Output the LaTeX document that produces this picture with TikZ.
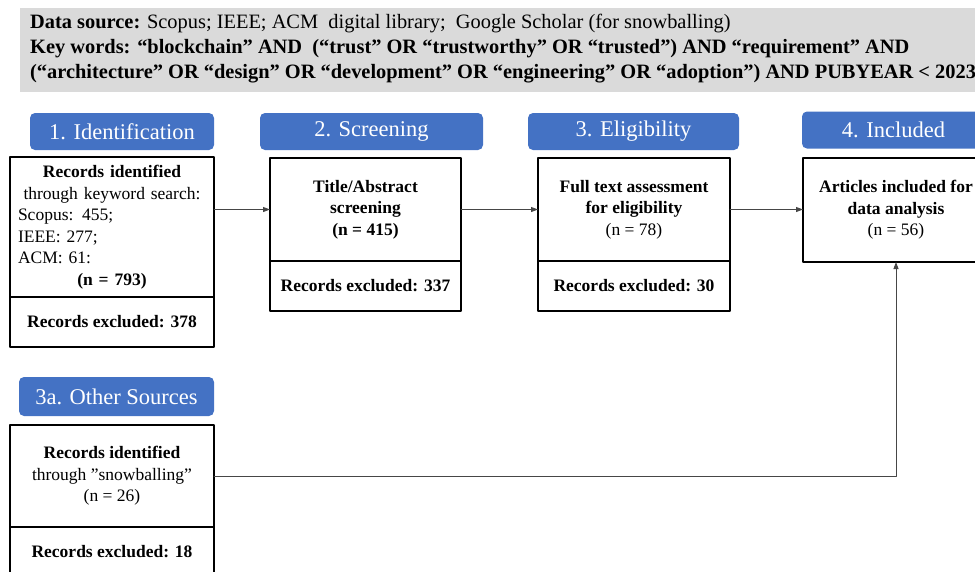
\documentclass[tikz,border=0pt]{standalone}
\usepackage{fontspec}
\setmainfont{Liberation Serif}
\usetikzlibrary{arrows.meta,positioning}
\definecolor{phaseblue}{RGB}{68,114,196}
\definecolor{headgray}{RGB}{218,218,218}
\definecolor{arrgray}{RGB}{70,70,70}
\begin{document}
\begin{tikzpicture}[line cap=round,line join=round,x=1pt,y=-1pt,
  phase/.style={fill=phaseblue,rounded corners=5pt,text=white,inner sep=0pt,minimum height=37pt,font=\fontsize{22.5}{27}\selectfont},
  recbox/.style={draw,line width=1.1pt,inner sep=0pt,outer sep=0pt,align=center,font=\fontsize{17.5}{21.5}\selectfont},
  flow/.style={draw=arrgray,line width=0.9pt,-{Triangle[length=7pt,width=5pt]}}]
\useasboundingbox (0,0) rectangle (975,571);
\clip (0,0) rectangle (975,571);
\fill[headgray] (20,8) rectangle (990,92);
\node[anchor=west,align=left,inner sep=0pt,font=\fontsize{20.4}{25}\selectfont] (src) at (30,49)
  {\textbf{Data source:} Scopus; IEEE; ACM\ \ digital library;\ \ Google Scholar (for snowballing)\\
   \textbf{Key words: “blockchain” AND\ \ (“trust” OR “trustworthy” OR “trusted”) AND “requirement” AND}\\
   \textbf{(“architecture” OR “design” OR “development” OR “engineering” OR “adoption”) AND PUBYEAR < 2023}};
\node[phase,minimum width=184pt] (p1) at (122,131.5) {1. Identification};
\node[phase,minimum width=223pt] (p2) at (371.5,131.5) {2. Screening};
\node[phase,minimum width=211pt] (p3) at (633.5,131.5) {3. Eligibility};
\node[phase,minimum width=183pt] (p4) at (893.5,130) {4. Included};
\node[phase,minimum width=195pt,minimum height=39pt] (p3a) at (116.5,396.5) {3a. Other Sources};
\node[recbox,anchor=north west,minimum width=204pt,minimum height=140pt,text width=188pt] (ident) at (10,157)
  {\textbf{Records identified}\\through keyword search:\\\makebox[188pt][l]{Scopus: 455;}\\\makebox[188pt][l]{IEEE: 277;}\\\makebox[188pt][l]{ACM: 61:}\\\textbf{(n = 793)}};
\node[recbox,below=0pt of ident,minimum width=204pt,minimum height=50pt] (identx) {\textbf{Records excluded: 378}};
\node[recbox,anchor=north west,minimum width=191pt,minimum height=103pt] (scr) at (270,158)
  {\textbf{Title/Abstract}\\\textbf{screening}\\\textbf{(n = 415)}};
\node[recbox,below=0pt of scr,minimum width=191pt,minimum height=50pt] (scrx) {\textbf{Records excluded: 337}};
\node[recbox,anchor=north west,minimum width=192pt,minimum height=103pt] (elig) at (538,158)
  {\textbf{Full text assessment}\\\textbf{for eligibility}\\(n = 78)};
\node[recbox,below=0pt of elig,minimum width=192pt,minimum height=50pt] (eligx) {\textbf{Records excluded: 30}};
\node[recbox,anchor=north west,minimum width=186pt,minimum height=104pt] (incl) at (803,158)
  {\textbf{Articles included for}\\\textbf{data analysis}\\(n = 56)};
\node[recbox,anchor=north west,minimum width=204pt,minimum height=102pt] (snow) at (10,425)
  {\textbf{Records identified}\\through ”snowballing”\\(n = 26)};
\node[recbox,below=0pt of snow,minimum width=204pt,minimum height=50pt] (snowx) {\textbf{Records excluded: 18}};
\draw[flow] (ident.east |- scr.west) -- (scr.west);
\draw[flow] (scr.east) -- (elig.west);
\draw[flow] (elig.east) -- (elig.east -| incl.west);
\draw[flow] (snow.east) -| (incl.south);
\end{tikzpicture}
\end{document}
